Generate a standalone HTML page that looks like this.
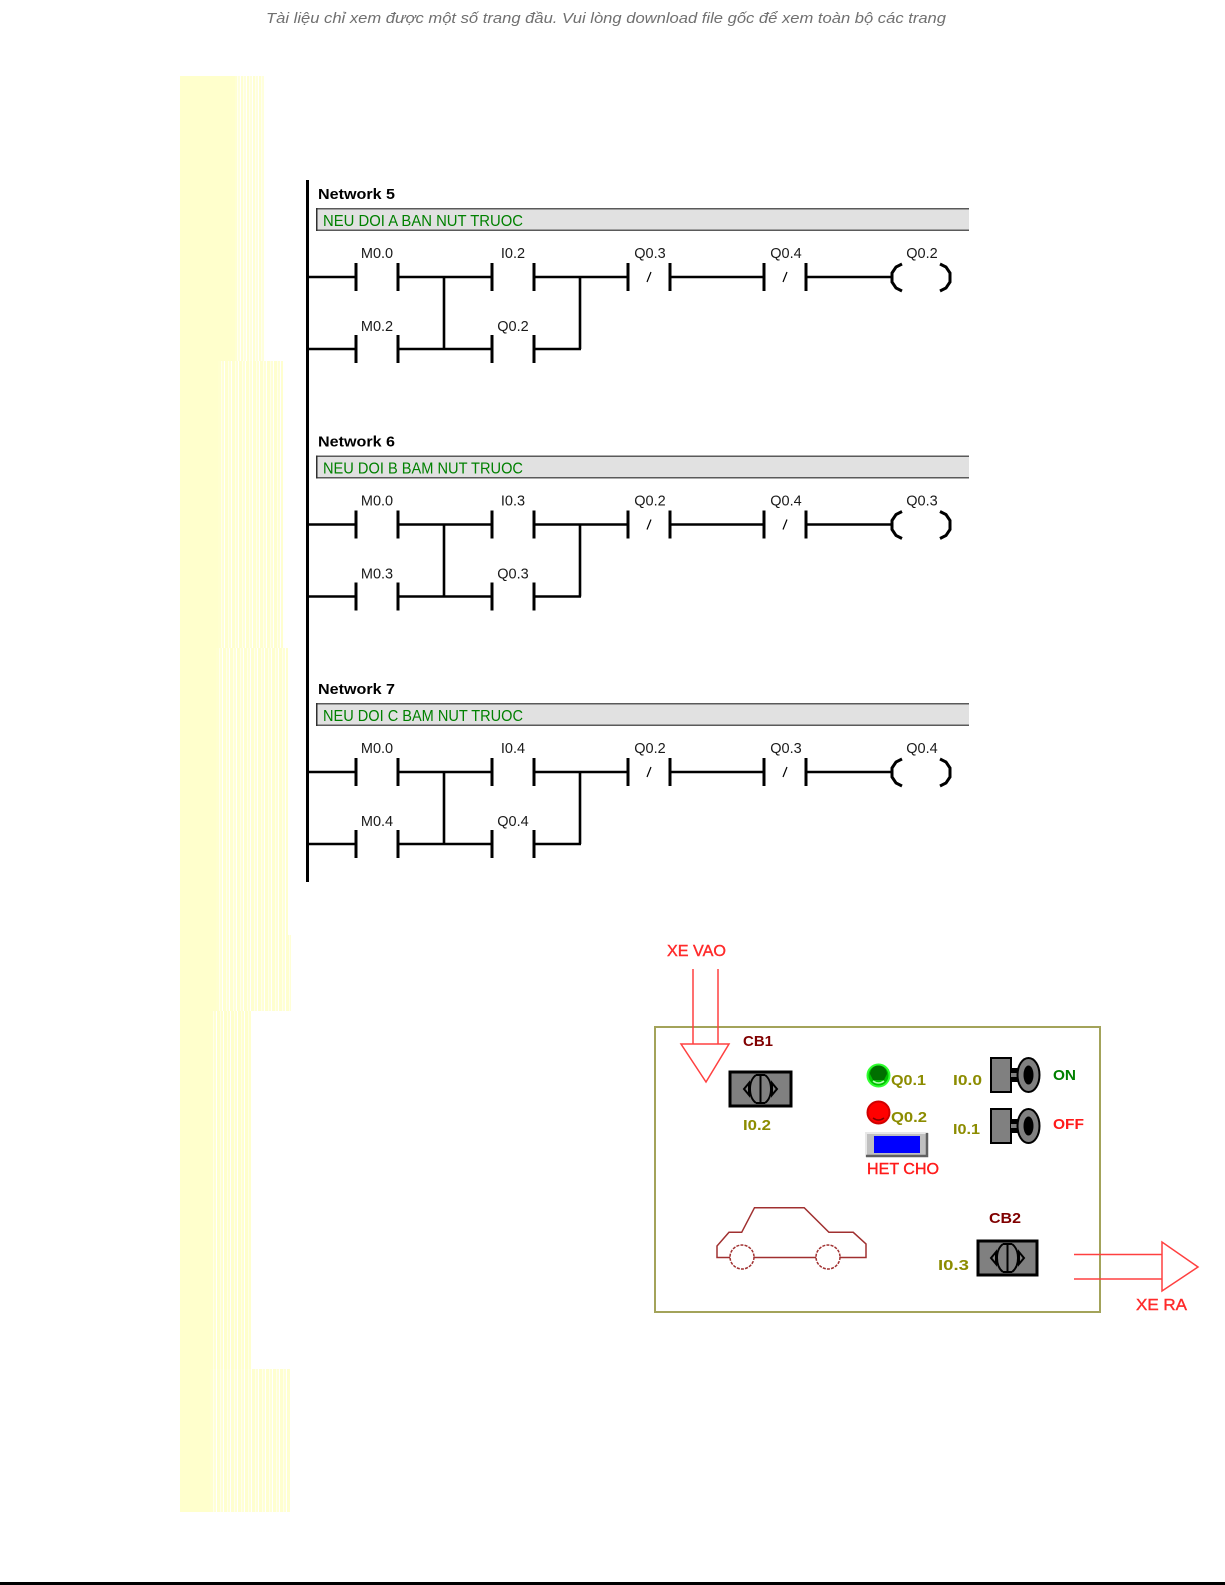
<!DOCTYPE html>
<html><head><meta charset="utf-8"><style>
html,body{margin:0;padding:0;background:#fff;}
body{width:1225px;height:1585px;position:relative;overflow:hidden;}
.ys{position:absolute;}
svg{position:absolute;left:0;top:0;}
.nw{font-family:"Liberation Sans",sans-serif;font-weight:bold;font-size:15px;fill:#000;}
.cm{font-family:"Liberation Sans",sans-serif;font-size:15.5px;fill:#008000;}
.lb{font-family:"Liberation Sans",sans-serif;font-size:14.5px;fill:#1a1a1a;text-anchor:middle;}
.pb{font-family:"Liberation Sans",sans-serif;font-weight:bold;font-size:15px;}
</style></head><body>
<!-- yellow strip -->
<div class="ys" style="left:180px;top:76px;width:55px;height:285px;background:#ffffcc"></div>
<div class="ys" style="left:235px;top:76px;width:30px;height:285px;background:repeating-linear-gradient(90deg,#ffffd2 0 2px,#fffff0 2px 3px,#ffffdc 3px 5px,#ffffff 5px 6px)"></div>
<div class="ys" style="left:180px;top:361px;width:38px;height:287px;background:#ffffcc"></div>
<div class="ys" style="left:218px;top:361px;width:65px;height:287px;background:repeating-linear-gradient(90deg,#ffffcf 0 3px,#ffffec 3px 4px,#ffffd6 4px 6px,#ffffff 6px 7px)"></div>
<div class="ys" style="left:180px;top:648px;width:36px;height:287px;background:#ffffcc"></div>
<div class="ys" style="left:216px;top:648px;width:72px;height:287px;background:repeating-linear-gradient(90deg,#ffffcf 0 3px,#ffffec 3px 4px,#ffffd6 4px 6px,#ffffff 6px 7px)"></div>
<div class="ys" style="left:180px;top:935px;width:36px;height:76px;background:#ffffcc"></div>
<div class="ys" style="left:216px;top:935px;width:75px;height:76px;background:repeating-linear-gradient(90deg,#ffffcf 0 3px,#ffffec 3px 4px,#ffffd6 4px 6px,#ffffff 6px 7px)"></div>
<div class="ys" style="left:180px;top:1011px;width:30px;height:501px;background:#ffffcc"></div>
<div class="ys" style="left:210px;top:1011px;width:41px;height:358px;background:repeating-linear-gradient(90deg,#ffffcc 0 3px,#ffffe8 3px 4px,#ffffd0 4px 6px,#ffffff 6px 7px)"></div>
<div class="ys" style="left:210px;top:1369px;width:80px;height:143px;background:repeating-linear-gradient(90deg,#ffffcf 0 3px,#ffffec 3px 4px,#ffffd6 4px 6px,#ffffff 6px 7px)"></div>

<svg width="1225" height="1585" viewBox="0 0 1225 1585" xmlns="http://www.w3.org/2000/svg">
<text x="266" y="23" textLength="680" lengthAdjust="spacingAndGlyphs" style="font-family:'Liberation Sans',sans-serif;font-style:italic;font-size:15px;fill:#707070">Tài liệu chỉ xem được một số trang đầu. Vui lòng download file gốc để xem toàn bộ các trang</text>

<!-- left rail -->
<rect x="306" y="180" width="3" height="702" fill="#000"/>

<!-- Network 5 -->
<g>
<text class="nw" x="318" y="199" textLength="77" lengthAdjust="spacingAndGlyphs">Network 5</text>
<rect x="316" y="208" width="653" height="23" fill="#e1e1e1"/>
<path d="M316,208.75H969M316,230.25H969" stroke="#5a5a5a" stroke-width="1.5"/>
<path d="M316.75,208V231" stroke="#303030" stroke-width="1.5"/>
<text class="cm" x="323" y="226" textLength="200" lengthAdjust="spacingAndGlyphs">NEU DOI A BAN NUT TRUOC</text>
<g stroke="#000" fill="none">
<path stroke-width="2.6" d="M307,277H356M398,277H492M534,277H628M670,277H764M806,277H892M307,349H356M398,349H492M534,349H581M444,277V349M580,277V349"/>
<path stroke-width="3" d="M356,263V291M398,263V291M492,263V291M534,263V291M628,263V291M670,263V291M764,263V291M806,263V291M356,335V363M398,335V363M492,335V363M534,335V363"/>
<path stroke-width="1.2" d="M647,282L651,272M783,282L787,272"/>
<path stroke-width="3" d="M902,264L896,267L892,273L892,282L896,288L902,291M940,264L946,267L950,273L950,282L946,288L940,291"/>
</g>
<text class="lb" x="377" y="258">M0.0</text><text class="lb" x="513" y="258">I0.2</text><text class="lb" x="650" y="258">Q0.3</text><text class="lb" x="786" y="258">Q0.4</text><text class="lb" x="922" y="258">Q0.2</text>
<text class="lb" x="377" y="331">M0.2</text><text class="lb" x="513" y="331">Q0.2</text>
</g>

<!-- Network 6 -->
<g transform="translate(0,247.5)">
<text class="nw" x="318" y="199" textLength="77" lengthAdjust="spacingAndGlyphs">Network 6</text>
<rect x="316" y="208" width="653" height="23" fill="#e1e1e1"/>
<path d="M316,208.75H969M316,230.25H969" stroke="#5a5a5a" stroke-width="1.5"/>
<path d="M316.75,208V231" stroke="#303030" stroke-width="1.5"/>
<text class="cm" x="323" y="226" textLength="200" lengthAdjust="spacingAndGlyphs">NEU DOI B BAM NUT TRUOC</text>
<g stroke="#000" fill="none">
<path stroke-width="2.6" d="M307,277H356M398,277H492M534,277H628M670,277H764M806,277H892M307,349H356M398,349H492M534,349H581M444,277V349M580,277V349"/>
<path stroke-width="3" d="M356,263V291M398,263V291M492,263V291M534,263V291M628,263V291M670,263V291M764,263V291M806,263V291M356,335V363M398,335V363M492,335V363M534,335V363"/>
<path stroke-width="1.2" d="M647,282L651,272M783,282L787,272"/>
<path stroke-width="3" d="M902,264L896,267L892,273L892,282L896,288L902,291M940,264L946,267L950,273L950,282L946,288L940,291"/>
</g>
<text class="lb" x="377" y="258">M0.0</text><text class="lb" x="513" y="258">I0.3</text><text class="lb" x="650" y="258">Q0.2</text><text class="lb" x="786" y="258">Q0.4</text><text class="lb" x="922" y="258">Q0.3</text>
<text class="lb" x="377" y="331">M0.3</text><text class="lb" x="513" y="331">Q0.3</text>
</g>

<!-- Network 7 -->
<g transform="translate(0,495)">
<text class="nw" x="318" y="199" textLength="77" lengthAdjust="spacingAndGlyphs">Network 7</text>
<rect x="316" y="208" width="653" height="23" fill="#e1e1e1"/>
<path d="M316,208.75H969M316,230.25H969" stroke="#5a5a5a" stroke-width="1.5"/>
<path d="M316.75,208V231" stroke="#303030" stroke-width="1.5"/>
<text class="cm" x="323" y="226" textLength="200" lengthAdjust="spacingAndGlyphs">NEU DOI C BAM NUT TRUOC</text>
<g stroke="#000" fill="none">
<path stroke-width="2.6" d="M307,277H356M398,277H492M534,277H628M670,277H764M806,277H892M307,349H356M398,349H492M534,349H581M444,277V349M580,277V349"/>
<path stroke-width="3" d="M356,263V291M398,263V291M492,263V291M534,263V291M628,263V291M670,263V291M764,263V291M806,263V291M356,335V363M398,335V363M492,335V363M534,335V363"/>
<path stroke-width="1.2" d="M647,282L651,272M783,282L787,272"/>
<path stroke-width="3" d="M902,264L896,267L892,273L892,282L896,288L902,291M940,264L946,267L950,273L950,282L946,288L940,291"/>
</g>
<text class="lb" x="377" y="258">M0.0</text><text class="lb" x="513" y="258">I0.4</text><text class="lb" x="650" y="258">Q0.2</text><text class="lb" x="786" y="258">Q0.3</text><text class="lb" x="922" y="258">Q0.4</text>
<text class="lb" x="377" y="331">M0.4</text><text class="lb" x="513" y="331">Q0.4</text>
</g>

<!-- Bottom panel -->
<rect x="655" y="1027" width="445" height="285" fill="none" stroke="#a3a35a" stroke-width="2"/>

<!-- XE VAO arrow -->
<text class="pb" x="667" y="956" textLength="59" lengthAdjust="spacingAndGlyphs" style="fill:#ff2a2a;stroke:#ff2a2a;stroke-width:0.4;font-weight:normal;font-size:16px">XE VAO</text>
<g stroke="#ff4040" stroke-width="1.5" fill="#fff">
<path d="M693,969V1044M718,969V1044" fill="none"/>
<path d="M681,1044H729L706,1082Z"/>
</g>

<!-- CB1 -->
<text class="pb" x="743" y="1046" textLength="30" lengthAdjust="spacingAndGlyphs" style="fill:#800000">CB1</text>
<g>
<rect x="730" y="1072" width="61" height="34" fill="#808080" stroke="#000" stroke-width="3"/>
<g stroke="#000" stroke-width="2" fill="none">
<path d="M749,1083L744,1089L749,1095Z"/>
<path d="M772,1083L777,1089L772,1095Z"/>
<path d="M756,1075C748,1081 748,1097 756,1103M765,1075C773,1081 773,1097 765,1103"/>
<path d="M756,1075H765M756,1103H765M760.5,1075V1103"/>
</g>
</g>
<text class="pb" x="743" y="1130" textLength="28" lengthAdjust="spacingAndGlyphs" style="fill:#8c8c00">I0.2</text>

<!-- lamps -->
<circle cx="878.5" cy="1075.5" r="11" fill="#00c000" stroke="#30ff30" stroke-width="2"/>
<path d="M870,1074A8.5,8.5 0 0 1 887,1074L884,1080H873Z" fill="#007000"/>
<path d="M873,1081Q878.5,1085 884,1081" stroke="#b0ffb0" stroke-width="1.5" fill="none"/>
<circle cx="878.5" cy="1112.5" r="11" fill="#ff0000" stroke="#d00000" stroke-width="2"/>
<path d="M873,1118Q878.5,1122 884,1118" stroke="#800000" stroke-width="1.5" fill="none"/>
<text class="pb" x="891" y="1085" textLength="35" lengthAdjust="spacingAndGlyphs" style="fill:#8c8c00">Q0.1</text>
<text class="pb" x="891" y="1122" textLength="36" lengthAdjust="spacingAndGlyphs" style="fill:#8c8c00">Q0.2</text>

<!-- indicator -->
<rect x="866" y="1133" width="62" height="24" fill="#c0c0c0"/>
<path d="M866,1157V1133H928" stroke="#e8e8e8" stroke-width="2" fill="none"/>
<path d="M866,1156H927V1133" stroke="#606060" stroke-width="2.5" fill="none"/>
<rect x="874" y="1136" width="46" height="17" fill="#0000ff"/>
<text class="pb" x="867" y="1174" textLength="72" lengthAdjust="spacingAndGlyphs" style="fill:#ff1a1a;stroke:#ff1a1a;stroke-width:0.4;font-weight:normal;font-size:16px">HET CHO</text>

<!-- switches -->
<text class="pb" x="953" y="1085" textLength="29" lengthAdjust="spacingAndGlyphs" style="fill:#8c8c00">I0.0</text>
<text class="pb" x="953" y="1134" textLength="27" lengthAdjust="spacingAndGlyphs" style="fill:#8c8c00">I0.1</text>
<g>
<rect x="991" y="1058" width="20" height="34" fill="#808080" stroke="#000" stroke-width="2"/>
<rect x="1011" y="1068" width="7" height="14" fill="#000"/>
<rect x="1011" y="1073" width="7" height="4" fill="#808080"/>
<ellipse cx="1028.5" cy="1075" rx="11" ry="17" fill="#808080" stroke="#000" stroke-width="2"/>
<ellipse cx="1028.5" cy="1075" rx="5" ry="9.5" fill="#000"/>
</g>
<g transform="translate(0,51)">
<rect x="991" y="1058" width="20" height="34" fill="#808080" stroke="#000" stroke-width="2"/>
<rect x="1011" y="1068" width="7" height="14" fill="#000"/>
<rect x="1011" y="1073" width="7" height="4" fill="#808080"/>
<ellipse cx="1028.5" cy="1075" rx="11" ry="17" fill="#808080" stroke="#000" stroke-width="2"/>
<ellipse cx="1028.5" cy="1075" rx="5" ry="9.5" fill="#000"/>
</g>
<text class="pb" x="1053" y="1080" textLength="23" lengthAdjust="spacingAndGlyphs" style="fill:#008000">ON</text>
<text class="pb" x="1053" y="1129" textLength="31" lengthAdjust="spacingAndGlyphs" style="fill:#ff1a1a">OFF</text>

<!-- car -->
<g stroke="#a03030" stroke-width="1.5" fill="none">
<path d="M730,1257.5H717V1246L729,1232.3H741.7L754.5,1207.7H804.2L828.9,1232.3H853.2L866,1244V1257.5H840M816,1257.5H754"/>
<circle cx="742" cy="1257" r="12" stroke-dasharray="3 1.2"/>
<circle cx="828" cy="1257" r="12" stroke-dasharray="3 1.2"/>
</g>

<!-- CB2 -->
<text class="pb" x="989" y="1223" textLength="32" lengthAdjust="spacingAndGlyphs" style="fill:#800000">CB2</text>
<g transform="translate(248,169)">
<rect x="730" y="1072" width="59" height="34" fill="#808080" stroke="#000" stroke-width="3"/>
<g stroke="#000" stroke-width="2" fill="none">
<path d="M748,1083L743,1089L748,1095Z"/>
<path d="M771,1083L776,1089L771,1095Z"/>
<path d="M755,1075C747,1081 747,1097 755,1103M764,1075C772,1081 772,1097 764,1103"/>
<path d="M755,1075H764M755,1103H764M759.5,1075V1103"/>
</g>
</g>
<text class="pb" x="938" y="1270" textLength="31" lengthAdjust="spacingAndGlyphs" style="fill:#8c8c00">I0.3</text>

<!-- XE RA arrow -->
<g stroke="#ff4040" stroke-width="1.5" fill="#fff">
<path d="M1074,1254.5H1162M1074,1279H1162" fill="none"/>
<path d="M1162,1242V1291L1198,1267Z"/>
</g>
<text class="pb" x="1136" y="1310" textLength="51" lengthAdjust="spacingAndGlyphs" style="fill:#ff2a2a;stroke:#ff2a2a;stroke-width:0.4;font-weight:normal;font-size:16px">XE RA</text>

<!-- bottom line -->
<rect x="0" y="1582" width="1225" height="3" fill="#000"/>
</svg>
</body></html>
